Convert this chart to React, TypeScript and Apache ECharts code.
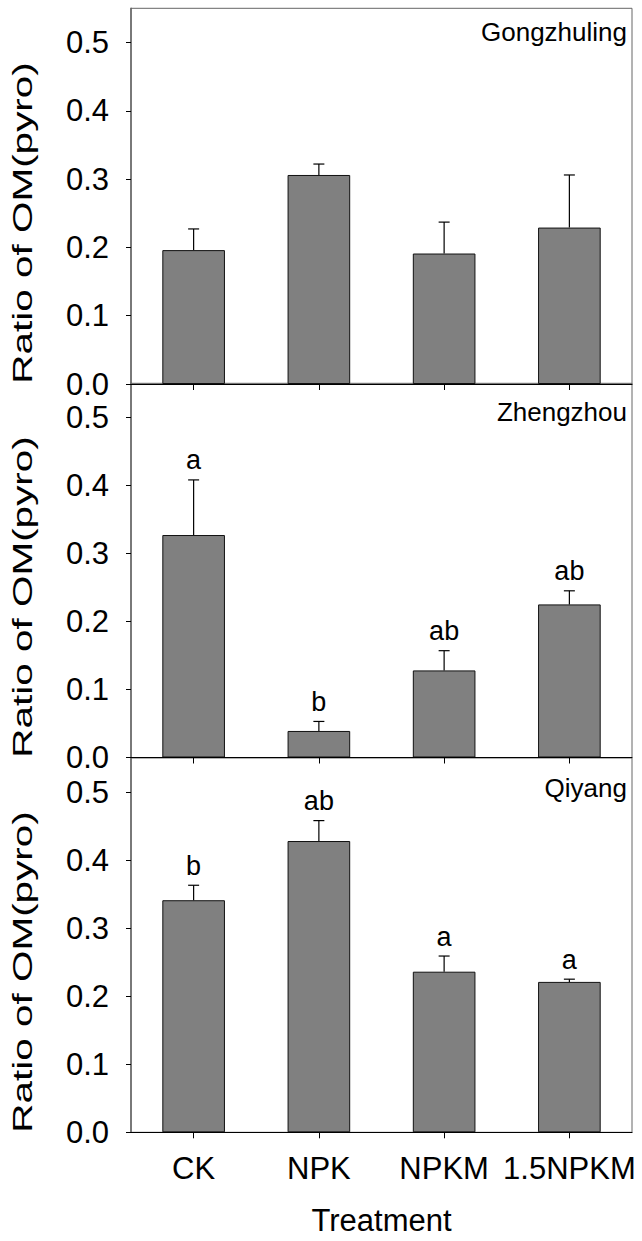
import React, { useEffect, useRef } from "react";
import * as echarts from "echarts";

const categories = ["CK", "NPK", "NPKM", "1.5NPKM"];
const siteNames = ["Gongzhuling", "Zhengzhou", "Qiyang"];

const gongzhulingMeans = [0.196, 0.306, 0.191, 0.229];
const gongzhulingErrors = [0.031, 0.016, 0.046, 0.077];
const gongzhulingLetters = ["", "", "", ""];

const zhengzhouMeans = [0.327, 0.039, 0.128, 0.225];
const zhengzhouErrors = [0.081, 0.014, 0.029, 0.020];
const zhengzhouLetters = ["a", "b", "ab", "ab"];

const qiyangMeans = [0.341, 0.428, 0.236, 0.221];
const qiyangErrors = [0.022, 0.030, 0.023, 0.004];
const qiyangLetters = ["b", "ab", "a", "a"];

const yTicks = [0, 0.1, 0.2, 0.3, 0.4, 0.5];
const yMin = 0;
const yMax = 0.55;
const yTitle = "Ratio of OM(pyro)";
const xTitle = "Treatment";

const FONT = "'Liberation Sans', Arial, Helvetica, sans-serif";

const panels = [
  { means: gongzhulingMeans, errors: gongzhulingErrors, letters: gongzhulingLetters },
  { means: zhengzhouMeans, errors: zhengzhouErrors, letters: zhengzhouLetters },
  { means: qiyangMeans, errors: qiyangErrors, letters: qiyangLetters },
];

const gridLayout = [
  { top: 8.3, height: 375.7 },
  { top: 383.3, height: 374.2 },
  { top: 758, height: 374.3 },
];
const siteLabelY = [33.5, 414, 790];
const yTitleY = [223, 597, 972];

export default function App() {
  const ref = useRef<HTMLDivElement>(null);

  useEffect(() => {
    if (!ref.current) return;
    const chart = echarts.init(ref.current, null, { renderer: "svg" });

    const grids = gridLayout.map((g) => ({
      left: 131,
      width: 501,
      top: g.top,
      height: g.height,
      show: true,
      borderColor: "#666",
      borderWidth: 1,
      containLabel: false,
    }));

    const xAxes = panels.map((_, i) => ({
      type: "category",
      gridIndex: i,
      data: categories,
      boundaryGap: true,
      axisLine: { show: true, lineStyle: { color: "#000", width: 1.2 } },
      axisTick: {
        show: true,
        alignWithLabel: true,
        inside: false,
        length: 6,
        lineStyle: { color: "#000", width: 1 },
      },
      axisLabel: {
        show: i === 2,
        interval: 0,
        hideOverlap: false,
        fontSize: 31,
        fontFamily: FONT,
        color: "#000",
        margin: 21,
      },
      name: i === 2 ? xTitle : "",
      nameLocation: "middle",
      nameGap: 73,
      nameTextStyle: { fontSize: 31, fontFamily: FONT, color: "#000" },
      splitLine: { show: false },
      z: 5,
    }));

    const yAxes = panels.map((_, i) => ({
      type: "value",
      gridIndex: i,
      min: yMin,
      max: yMax,
      interval: 0.1,
      axisLine: { show: true, lineStyle: { color: "#666", width: 1.5 } },
      axisTick: {
        show: true,
        inside: false,
        length: 5,
        customValues: yTicks,
        lineStyle: { color: "#000", width: 1 },
      },
      axisLabel: {
        show: true,
        customValues: yTicks,
        fontSize: 31,
        fontFamily: FONT,
        color: "#000",
        margin: 22,
        formatter: (v: number) => v.toFixed(1),
      },
      splitLine: { show: false },
    }));

    const series: any[] = [];
    panels.forEach((p, i) => {
      series.push({
        type: "bar",
        xAxisIndex: i,
        yAxisIndex: i,
        data: p.means,
        barWidth: "50%",
        itemStyle: { color: "#808080", borderColor: "#111", borderWidth: 1 },
        z: 2,
      });
      series.push({
        type: "custom",
        xAxisIndex: i,
        yAxisIndex: i,
        data: p.means.map((m, k) => [k, m, p.errors[k]]),
        encode: { x: 0, y: 1 },
        z: 3,
        renderItem: (params: any, api: any) => {
          const k = api.value(0);
          const m = api.value(1);
          const e = api.value(2);
          const base = api.coord([k, m]);
          const cap = api.coord([k, m + e]);
          const children: any[] = [
            {
              type: "line",
              shape: { x1: base[0], y1: base[1], x2: cap[0], y2: cap[1] },
              style: { stroke: "#000", lineWidth: 1.2 },
            },
            {
              type: "line",
              shape: { x1: cap[0] - 5.5, y1: cap[1], x2: cap[0] + 5.5, y2: cap[1] },
              style: { stroke: "#000", lineWidth: 1.2 },
            },
          ];
          const letter = p.letters[params.dataIndex];
          if (letter) {
            children.push({
              type: "text",
              x: cap[0],
              y: cap[1] - 6,
              style: {
                text: letter,
                fontSize: 27,
                fontFamily: FONT,
                fill: "#000",
                align: "center",
                verticalAlign: "bottom",
              },
            });
          }
          return { type: "group", children };
        },
      });
    });

    const graphics: any[] = [];
    siteNames.forEach((s, i) => {
      graphics.push({
        type: "text",
        right: 15,
        top: siteLabelY[i] - 15,
        style: {
          text: s,
          fontSize: 26,
          fontFamily: FONT,
          fill: "#000",
        },
        z: 10,
      });
      graphics.push({
        type: "text",
        x: 23,
        y: yTitleY[i],
        rotation: Math.PI / 2,
        scaleX: 1.5,
        style: {
          text: yTitle,
          fontSize: 27,
          fontFamily: FONT,
          fill: "#000",
          align: "center",
          verticalAlign: "middle",
        },
        z: 10,
      });
    });

    chart.setOption({
      animation: false,
      backgroundColor: "#fff",
      textStyle: { fontFamily: FONT },
      grid: grids,
      xAxis: xAxes,
      yAxis: yAxes,
      series,
      graphic: graphics,
    });

    return () => {
      chart.dispose();
    };
  }, []);

  return (
    <div
      ref={ref}
      style={{ position: "absolute", left: 0, top: 0, width: 642, height: 1241 }}
    />
  );
}
